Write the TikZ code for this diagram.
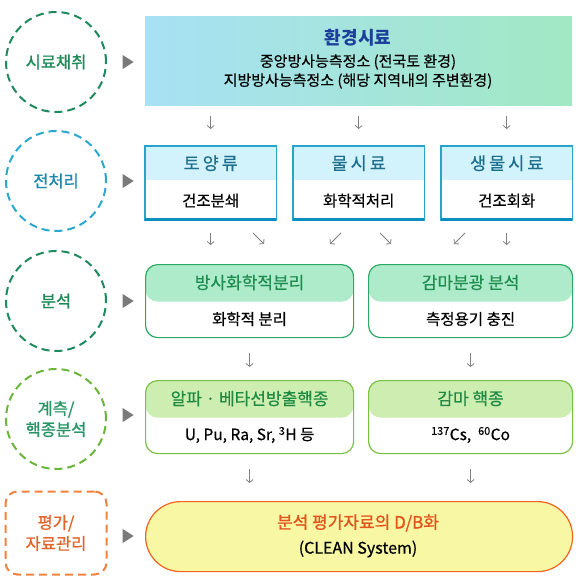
\documentclass[tikz,border=0pt]{standalone}
\usepackage{fontspec}
\setmainfont{Noto Sans CJK KR}
\newfontfamily\semibold[FakeBold=1.2]{Noto Sans CJK KR}
\newfontfamily\medium[FakeBold=0.5]{Noto Sans CJK KR}
\usetikzlibrary{arrows.meta, positioning, shapes.geometric, calc}

\definecolor{stagegreen}{HTML}{1F8A5E}
\definecolor{stageblue}{HTML}{2AA8CE}
\definecolor{stagelime}{HTML}{6AB53A}
\definecolor{stageorange}{HTML}{F0813E}
\definecolor{txtgreen}{HTML}{1E8A58}
\definecolor{txtblue}{HTML}{1D89AE}
\definecolor{txtlime}{HTML}{2A9466}
\definecolor{txtorange}{HTML}{E0652A}
\definecolor{tipgray}{HTML}{7A7A7A}
\definecolor{arrgray}{HTML}{808080}
\definecolor{envblue}{HTML}{A7E1F4}
\definecolor{envgreen}{HTML}{A2E8C4}
\definecolor{envnavy}{HTML}{1B3F9A}
\definecolor{prepline}{HTML}{2AA3CC}
\definecolor{prepbot}{HTML}{0A8EBF}
\definecolor{prephead}{HTML}{D3F3FC}
\definecolor{preptxt}{HTML}{1E6F8E}
\definecolor{analline}{HTML}{2EA865}
\definecolor{analhead}{HTML}{AEEBCB}
\definecolor{analtxt}{HTML}{1E8C4E}
\definecolor{measline}{HTML}{7AC143}
\definecolor{meashead}{HTML}{CDEDB1}
\definecolor{meastxt}{HTML}{1F8B42}
\definecolor{pillfill}{HTML}{F8F7A3}
\definecolor{pillline}{HTML}{F0641E}
\definecolor{pilltxt}{HTML}{E4531E}

\begin{document}
\begin{tikzpicture}[
    x=1pt, y=-1pt,
    stage/.style={circle, line width=2pt, dash pattern=on 8pt off 5pt,
        minimum size=100pt, inner sep=0pt, align=center,
        font=\semibold\fontsize{16.5}{21}\selectfont},
    tipnode/.style={isosceles triangle, isosceles triangle stretches, fill=tipgray,
        minimum height=11pt, minimum width=14pt, inner sep=0pt},
    arr/.style={-{Straight Barb[length=3pt,width=7pt]}, draw=arrgray, line width=0.8pt},
    prephd/.style={rectangle, fill=prephead, minimum width=131pt, minimum height=34pt,
        inner sep=0pt, text=preptxt, font=\medium\fontsize{17.5}{20}\selectfont},
    prepbd/.style={rectangle, minimum width=131pt, minimum height=40pt,
        inner sep=0pt, font=\medium\fontsize{15.5}{18}\selectfont},
    hbox/.style 2 args={rounded corners=12pt, draw=#1, line width=1.2pt, fill=white,
        minimum height=73pt, inner sep=0pt,
        path picture={\fill[#2] (path picture bounding box.north west)
            rectangle ([yshift=-37pt]path picture bounding box.north east);}},
    head/.style={font=\medium\fontsize{17}{20}\selectfont, inner sep=0pt},
    body/.style={font=\medium\fontsize{15.5}{18}\selectfont, inner sep=0pt}
]
    \useasboundingbox (0,0) rectangle (580,585);

    % stages
    \node[stage, draw=stagegreen, text=txtgreen] (samp) at (56,62) {시료채취};
    \node[stage, draw=stageblue, text=txtblue] (prep) at (56,181) {전처리};
    \node[stage, draw=stagegreen, text=txtgreen] (anal) at (56,301) {분석};
    \node[stage, draw=stagelime, text=txtlime] (meas) at (56,419) {계측/\\핵종분석};
    \node[stage, circle=false, rectangle, rounded corners=12pt, minimum width=101pt,
        minimum height=83pt, draw=stageorange, text=txtorange] (eval) at (56,533) {평가/\\자료관리};

    \node[tipnode] (tip1) at (126.5,62) {};
    \node[tipnode] (tip2) at (126.5,181) {};
    \node[tipnode] (tip3) at (126.5,301) {};
    \node[tipnode] (tip4) at (126.5,415) {};
    \node[tipnode] (tip5) at (126.5,536) {};

    % sampling
    \node[rectangle, minimum width=427pt, minimum height=89pt, inner sep=0pt,
        left color=envblue, right color=envgreen, anchor=north west] (env) at (145,16) {};
    \node[font=\bfseries\fontsize{18}{20}\selectfont, text=envnavy] (envT) at (358,38) {환경시료};
    \node[font=\medium\fontsize{15}{19}\selectfont, align=center] (envB) at (358,71.5)
        {중앙방사능측정소 (전국토 환경)\\지방방사능측정소 (해당 지역내의 주변환경)};

    % pre-treatment
    \node[prephd, anchor=north west] (soil) at (145,146) {토\hspace{3pt}양\hspace{3pt}류};
    \node[prepbd, anchor=north] (soilB) at (soil.south) {건조분쇄};
    \node[prephd, anchor=north west] (water) at (293,146) {물\hspace{3pt}시\hspace{3pt}료};
    \node[prepbd, anchor=north] (waterB) at (water.south) {화학적처리};
    \node[prephd, anchor=north west] (bio) at (441,146) {생\hspace{3pt}물\hspace{3pt}시\hspace{3pt}료};
    \node[prepbd, anchor=north] (bioB) at (bio.south) {건조회화};
    \draw[prepline, line width=1.3pt] (soil.north west) rectangle (soilB.south east);
    \draw[prepline, line width=1.3pt] (water.north west) rectangle (waterB.south east);
    \draw[prepline, line width=1.3pt] (bio.north west) rectangle (bioB.south east);
    \draw[prepbot, line width=3pt] ([yshift=1.5pt]soilB.south west) -- ([yshift=1.5pt]soilB.south east);
    \draw[prepbot, line width=3pt] ([yshift=1.5pt]waterB.south west) -- ([yshift=1.5pt]waterB.south east);
    \draw[prepbot, line width=3pt] ([yshift=1.5pt]bioB.south west) -- ([yshift=1.5pt]bioB.south east);

    % analysis
    \node[hbox={analline}{analhead}, minimum width=208pt, anchor=north west] (radchem) at (145,264) {};
    \node[head, text=analtxt] (radchemT) at ([yshift=-18.5pt]radchem.north) {방사화학적분리};
    \node[body] (radchemB) at ([yshift=-55pt]radchem.north) {화학적 분리};
    \node[hbox={analline}{analhead}, minimum width=204pt, anchor=north west] (gspec) at (368,264) {};
    \node[head, text=analtxt] (gspecT) at ([yshift=-18.5pt]gspec.north) {감마분광 분석};
    \node[body] (gspecB) at ([yshift=-55pt]gspec.north) {측정용기 충진};

    % measurement
    \node[hbox={measline}{meashead}, minimum width=208pt, anchor=north west] (alpha) at (145,380) {};
    \node[head, text=meastxt] (alphaT) at ([yshift=-18.5pt]alpha.north) {알파 · 베타선방출핵종};
    \node[body] (alphaB) at ([yshift=-55pt]alpha.north) {U, Pu, Ra, Sr, \textsuperscript{3}H 등};
    \node[hbox={measline}{meashead}, minimum width=204pt, anchor=north west] (gnuc) at (368,380) {};
    \node[head, text=meastxt] (gnucT) at ([yshift=-18.5pt]gnuc.north) {감마 핵종};
    \node[body] (gnucB) at ([yshift=-55pt]gnuc.north) {\textsuperscript{137}Cs,\ \ \textsuperscript{60}Co};

    % evaluation
    \node[rectangle, rounded corners=35pt, minimum width=427pt, minimum height=70pt,
        inner sep=0pt, fill=pillfill, draw=pillline, line width=1.2pt, anchor=north west] (db) at (145,501) {};
    \node[font=\semibold\fontsize{17}{20}\selectfont, text=pilltxt] (dbT) at (358,523) {분석 평가자료의 D/B화};
    \node[font=\medium\fontsize{16}{18}\selectfont] (dbB) at (358,549) {(CLEAN System)};

    % small arrows
    \draw[arr, shorten <=11pt, shorten >=17pt] (env.south -| soil) -- (soil.north);
    \draw[arr, shorten <=11pt, shorten >=17pt] (env.south -| water) -- (water.north);
    \draw[arr, shorten <=11pt, shorten >=17pt] (env.south -| bio) -- (bio.north);

    \draw[arr, shorten <=12pt, shorten >=19pt] (soilB.south) -- (soilB.south |- radchem.north);
    \draw[arr, shorten <=12pt, shorten >=19pt] (bioB.south) -- (bioB.south |- gspec.north);
    \coordinate (d1) at (253,233);
    \coordinate (d2) at (341,233);
    \coordinate (d3) at (380,233);
    \coordinate (d4) at (465,233);
    \draw[arr] (d1) -- ++(11,11);
    \draw[arr] (d2) -- ++(-11,11);
    \draw[arr] (d3) -- ++(11,11);
    \draw[arr] (d4) -- ++(-11,11);

    \draw[arr, shorten <=15pt, shorten >=13pt] (radchem.south) -- (alpha.north);
    \draw[arr, shorten <=15pt, shorten >=13pt] (gspec.south) -- (gnuc.north);
    \draw[arr, shorten <=15pt, shorten >=18pt] (alpha.south) -- (alpha.south |- db.north);
    \draw[arr, shorten <=15pt, shorten >=18pt] (gnuc.south) -- (gnuc.south |- db.north);
\end{tikzpicture}
\end{document}
